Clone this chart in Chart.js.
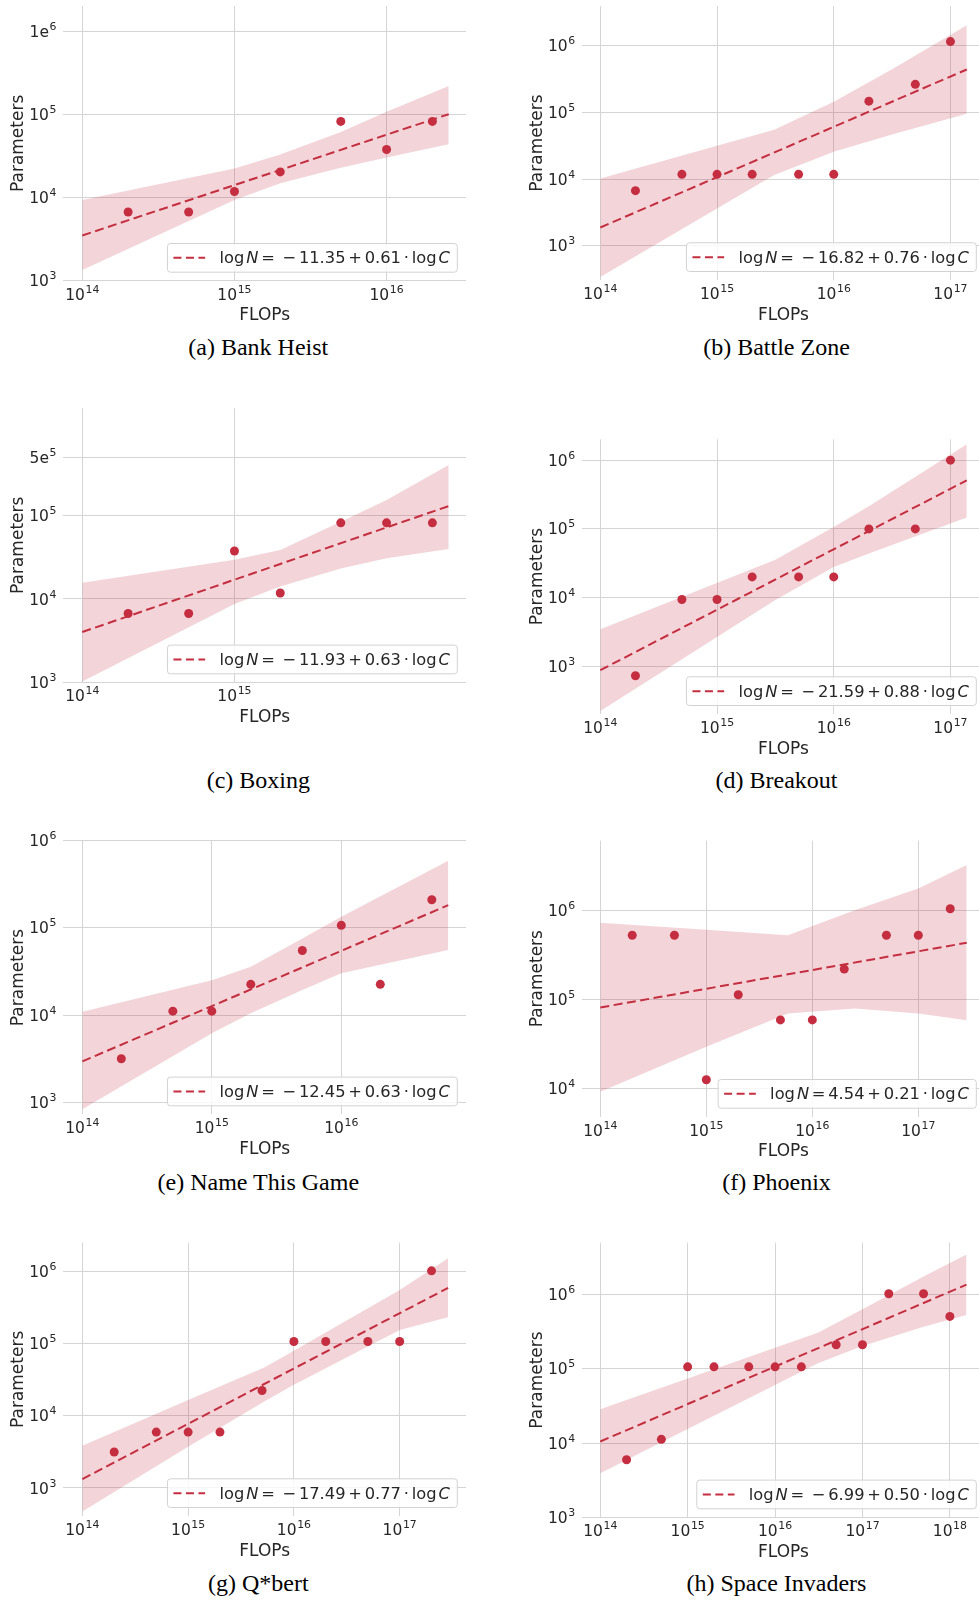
<!DOCTYPE html>
<html>
<head>
<meta charset="utf-8">
<script src="https://cdn.jsdelivr.net/npm/chart.js@4.4.1/dist/chart.umd.min.js"></script>
<style>
  html, body { margin: 0; padding: 0; background: #fff; }
  #page { position: relative; width: 979px; height: 1600px; overflow: hidden; background: #fff; }
  #page canvas { position: absolute; }
  .cap {
    position: absolute; width: 400px; text-align: center; white-space: nowrap;
    font-family: 'Liberation Serif', 'Times New Roman', serif;
    font-size: 24px; line-height: 24px; color: #000;
  }
</style>
</head>
<body>
<div id="page"></div>
<script>
// ---------- data: model FLOPs vs. parameter count, per game ----------

// Bank Heist
const bankHeistFlops      = [2e14, 5e14, 1e15, 2e15, 5e15, 1e16, 2e16];
const bankHeistParams     = [6.7e3, 6.7e3, 1.18e4, 2.03e4, 8.2e4, 3.77e4, 8.2e4];
const bankHeistBandFlops  = [1e14, 1e15, 2e15, 5e15, 1e16, 2.56e16];
const bankHeistBandLow    = [1.34e3, 9.33e3, 1.48e4, 2.27e4, 3.02e4, 4.37e4];
const bankHeistBandHigh   = [9.3e3, 2.23e4, 3.28e4, 6.14e4, 1.07e5, 2.19e5];

// Battle Zone
const battleZoneFlops     = [2e14, 5e14, 1e15, 2e15, 5e15, 1e16, 2e16, 5e16, 1e17];
const battleZoneParams    = [6.7e3, 1.18e4, 1.18e4, 1.18e4, 1.18e4, 1.18e4, 1.48e5, 2.65e5, 1.16e6];
const battleZoneBandFlops = [1e14, 1e15, 3.09e15, 1e16, 3.16e16, 1.38e17];
const battleZoneBandLow   = [339, 3.63e3, 1.15e4, 2.57e4, 4.68e4, 9.55e4];
const battleZoneBandHigh  = [1.02e4, 3.16e4, 5.5e4, 1.45e5, 4.47e5, 2.04e6];

// Boxing
const boxingFlops         = [2e14, 5e14, 1e15, 2e15, 5e15, 1e16, 2e16];
const boxingParams        = [6.7e3, 6.7e3, 3.77e4, 1.18e4, 8.2e4, 8.2e4, 8.2e4];
const boxingBandFlops     = [1e14, 1e15, 2e15, 5e15, 1e16, 2.56e16];
const boxingBandLow       = [1.02e3, 8.71e3, 1.41e4, 2.33e4, 3.08e4, 3.98e4];
const boxingBandHigh      = [1.57e4, 2.95e4, 3.87e4, 8.47e4, 1.54e5, 4.06e5];

// Breakout
const breakoutFlops       = [2e14, 5e14, 1e15, 2e15, 5e15, 1e16, 2e16, 5e16, 1e17];
const breakoutParams      = [730, 9.4e3, 9.4e3, 2.0e4, 2.0e4, 2.0e4, 1.0e5, 1.0e5, 1.0e6];
const breakoutBandFlops   = [1e14, 3.16e15, 1e16, 2e16, 1.38e17];
const breakoutBandLow     = [224, 9.2e3, 2.8e4, 4.37e4, 1.46e5];
const breakoutBandHigh    = [3.46e3, 3.55e4, 1.07e5, 2.14e5, 1.71e6];

// Name This Game
const nameThisGameFlops     = [2e14, 5e14, 1e15, 2e15, 5e15, 1e16, 2e16, 5e16];
const nameThisGameParams    = [3.16e3, 1.11e4, 1.11e4, 2.25e4, 5.5e4, 1.07e5, 2.25e4, 2.1e5];
const nameThisGameBandFlops = [1e14, 1e15, 2e15, 5e15, 1e16, 6.7e16];
const nameThisGameBandLow   = [832, 6.17e3, 1.05e4, 1.94e4, 3.01e4, 5.56e4];
const nameThisGameBandHigh  = [1.09e4, 2.51e4, 3.58e4, 7.57e4, 1.34e5, 5.87e5];

// Phoenix
const phoenixFlops        = [2e14, 5e14, 1e15, 2e15, 5e15, 1e16, 2e16, 5e16, 1e17, 2e17];
const phoenixParams       = [5.25e5, 5.25e5, 1.26e4, 1.13e5, 5.9e4, 5.9e4, 2.19e5, 5.25e5, 5.25e5, 1.04e6];
const phoenixBandFlops    = [1e14, 1e15, 5.89e15, 2.51e16, 1e17, 2.86e17];
const phoenixBandLow      = [9.23e3, 2.95e4, 6.97e4, 7.94e4, 6.97e4, 5.86e4];
const phoenixBandHigh     = [7.24e5, 6.04e5, 5.25e5, 1.0e6, 1.76e6, 3.21e6];

// Q*bert
const qbertFlops          = [2e14, 5e14, 1e15, 2e15, 5e15, 1e16, 2e16, 5e16, 1e17, 2e17];
const qbertParams         = [3.15e3, 5.95e3, 5.95e3, 5.95e3, 2.24e4, 1.07e5, 1.07e5, 1.07e5, 1.07e5, 1.02e6];
const qbertBandFlops      = [1e14, 1e15, 5.25e15, 1e16, 1e17, 2.87e17];
const qbertBandLow        = [474, 3.72e3, 1.58e4, 2.69e4, 1.55e5, 2.32e5];
const qbertBandHigh       = [3.85e3, 1.65e4, 4.68e4, 7.94e4, 5.55e5, 1.52e6];

// Space Invaders
const spaceInvadersFlops     = [2e14, 5e14, 1e15, 2e15, 5e15, 1e16, 2e16, 5e16, 1e17, 2e17, 5e17, 1e18];
const spaceInvadersParams    = [5.96e3, 1.12e4, 1.06e5, 1.06e5, 1.06e5, 1.06e5, 1.06e5, 2.1e5, 2.1e5, 1.02e6, 1.02e6, 5.06e5];
const spaceInvadersBandFlops = [1e14, 1e15, 1e16, 3.09e16, 1e17, 5e17, 1.55e18];
const spaceInvadersBandLow   = [3.91e3, 1.54e4, 6.03e4, 1.18e5, 2.02e5, 3.67e5, 5.27e5];
const spaceInvadersBandHigh  = [2.84e4, 7.41e4, 1.92e5, 3.05e5, 6.3e5, 1.74e6, 3.45e6];

// power-law fits: ln N = intercept + slope * ln C
const fitIntercept = [-11.35, -16.82, -11.93, -21.59, -12.45, 4.54, -17.49, -6.99];
const fitSlope     = [0.6052, 0.7556, 0.6275, 0.880, 0.634, 0.2099, 0.7657, 0.504];

const gameNames = ['Bank Heist', 'Battle Zone', 'Boxing', 'Breakout',
                   'Name This Game', 'Phoenix', 'Q*bert', 'Space Invaders'];
const panelTags = ['a', 'b', 'c', 'd', 'e', 'f', 'g', 'h'];

// tick values and their labels ("base^superscript")
const flopTicks16 = [1e14, 1e15, 1e16];
const flopLabels16 = ['10^14', '10^15', '10^16'];
const flopTicks15 = [1e14, 1e15];
const flopLabels15 = ['10^14', '10^15'];
const flopTicks17 = [1e14, 1e15, 1e16, 1e17];
const flopLabels17 = ['10^14', '10^15', '10^16', '10^17'];
const flopTicks18 = [1e14, 1e15, 1e16, 1e17, 1e18];
const flopLabels18 = ['10^14', '10^15', '10^16', '10^17', '10^18'];
const paramTicks3to6 = [1e3, 1e4, 1e5, 1e6];
const paramLabels3to6 = ['10^3', '10^4', '10^5', '10^6'];
const paramLabelsBankHeist = ['10^3', '10^4', '10^5', '1e^6'];
const paramTicksBoxing = [1e3, 1e4, 1e5, 5e5];
const paramLabelsBoxing = ['10^3', '10^4', '10^5', '5e^5'];
const paramTicks4to6 = [1e4, 1e5, 1e6];
const paramLabels4to6 = ['10^4', '10^5', '10^6'];

// ---------- panel assembly ----------
const panels = [
  { flops: bankHeistFlops, params: bankHeistParams, bandFlops: bankHeistBandFlops, bandLow: bankHeistBandLow, bandHigh: bankHeistBandHigh,
    xTicks: flopTicks16, xLabels: flopLabels16, yTicks: paramTicks3to6, yLabels: paramLabelsBankHeist },
  { flops: battleZoneFlops, params: battleZoneParams, bandFlops: battleZoneBandFlops, bandLow: battleZoneBandLow, bandHigh: battleZoneBandHigh,
    xTicks: flopTicks17, xLabels: flopLabels17, yTicks: paramTicks3to6, yLabels: paramLabels3to6 },
  { flops: boxingFlops, params: boxingParams, bandFlops: boxingBandFlops, bandLow: boxingBandLow, bandHigh: boxingBandHigh,
    xTicks: flopTicks15, xLabels: flopLabels15, yTicks: paramTicksBoxing, yLabels: paramLabelsBoxing },
  { flops: breakoutFlops, params: breakoutParams, bandFlops: breakoutBandFlops, bandLow: breakoutBandLow, bandHigh: breakoutBandHigh,
    xTicks: flopTicks17, xLabels: flopLabels17, yTicks: paramTicks3to6, yLabels: paramLabels3to6 },
  { flops: nameThisGameFlops, params: nameThisGameParams, bandFlops: nameThisGameBandFlops, bandLow: nameThisGameBandLow, bandHigh: nameThisGameBandHigh,
    xTicks: flopTicks16, xLabels: flopLabels16, yTicks: paramTicks3to6, yLabels: paramLabels3to6 },
  { flops: phoenixFlops, params: phoenixParams, bandFlops: phoenixBandFlops, bandLow: phoenixBandLow, bandHigh: phoenixBandHigh,
    xTicks: flopTicks17, xLabels: flopLabels17, yTicks: paramTicks4to6, yLabels: paramLabels4to6 },
  { flops: qbertFlops, params: qbertParams, bandFlops: qbertBandFlops, bandLow: qbertBandLow, bandHigh: qbertBandHigh,
    xTicks: flopTicks17, xLabels: flopLabels17, yTicks: paramTicks3to6, yLabels: paramLabels3to6 },
  { flops: spaceInvadersFlops, params: spaceInvadersParams, bandFlops: spaceInvadersBandFlops, bandLow: spaceInvadersBandLow, bandHigh: spaceInvadersBandHigh,
    xTicks: flopTicks18, xLabels: flopLabels18, yTicks: paramTicks3to6, yLabels: paramLabels3to6 }
];

// page geometry: canvas left/width, plot box [left, top, right, bottom], axis limits as log10 exponents
const layout = [
  { left: 0,   width: 489, plot: [63.3, 6, 466, 280.7],       xExp: [13.875, 16.522], yExp: [3, 6.301],     cap: [258.3, 347.2] },
  { left: 490, width: 510, plot: [582, 6, 985, 280],          xExp: [13.843, 17.296], yExp: [2.485, 6.599], cap: [776.5, 347.2] },
  { left: 0,   width: 489, plot: [63.3, 408.3, 466, 682.3],   xExp: [13.875, 16.522], yExp: [3, 6.289],     cap: [258.3, 779.7] },
  { left: 490, width: 510, plot: [582, 439.3, 985, 714],      xExp: [13.843, 17.296], yExp: [2.306, 6.304], cap: [776.5, 780] },
  { left: 0,   width: 489, plot: [63.3, 840.7, 466, 1114.3],  xExp: [13.853, 16.963], yExp: [2.862, 6.0],   cap: [258.3, 1181.7] },
  { left: 490, width: 510, plot: [582, 840.7, 985, 1116.7],   xExp: [13.827, 17.629], yExp: [3.686, 6.780], cap: [776.5, 1181.7] },
  { left: 0,   width: 489, plot: [63.3, 1242.7, 466, 1516],   xExp: [13.820, 17.627], yExp: [2.612, 6.398], cap: [258.3, 1583.3] },
  { left: 490, width: 510, plot: [582, 1242.7, 985, 1517.3],  xExp: [13.791, 18.402], yExp: [3, 6.696],     cap: [776.5, 1583.3] }
];

// ---------- styling ----------
const MARK = 'rgb(196, 46, 64)';
const BAND = 'rgba(196, 46, 64, 0.2)';
const TEXT = '#262626';
const GRID = '#d5d5d5';
const FONT = "'DejaVu Sans'";
const TICK_SIZE = 15.5;
const SUP_SIZE = 10.9;
const SUP_RAISE = 7;
const LEGEND_SIZE = 16.3;
const X_AXIS_H = 45.3;
const Y_AXIS_W = 55;
const TOP_ROOM = 16;

Chart.defaults.font.family = FONT;
Chart.defaults.color = TEXT;

// draws "base" with a raised superscript, like 10^14
function drawPowerLabel(ctx, label, x, baseline, align) {
  const [base, sup] = label.split('^');
  ctx.font = `${TICK_SIZE}px ${FONT}`;
  const wb = ctx.measureText(base).width;
  ctx.font = `${SUP_SIZE}px ${FONT}`;
  const ws = ctx.measureText(sup).width;
  const total = wb + 0.6 + ws;
  const x0 = align === 'center' ? x - total / 2 : x - total;
  ctx.font = `${TICK_SIZE}px ${FONT}`;
  ctx.fillText(base, x0, baseline);
  ctx.font = `${SUP_SIZE}px ${FONT}`;
  ctx.fillText(sup, x0 + wb + 0.6, baseline - SUP_RAISE);
}

function tickTextPlugin(p) {
  return {
    id: 'tickText',
    afterDraw(chart) {
      const { ctx, chartArea, scales } = chart;
      ctx.save();
      ctx.fillStyle = TEXT;
      ctx.textAlign = 'left';
      ctx.textBaseline = 'alphabetic';
      p.xTicks.forEach((v, k) => {
        drawPowerLabel(ctx, p.xLabels[k], scales.x.getPixelForValue(v), chartArea.bottom + 19, 'center');
      });
      p.yTicks.forEach((v, k) => {
        drawPowerLabel(ctx, p.yLabels[k], chartArea.left - 6.8, scales.y.getPixelForValue(v) + 5.6, 'right');
      });
      ctx.restore();
    }
  };
}

function fitLegendPlugin(intercept, slope) {
  return {
    id: 'fitLegend',
    afterDraw(chart) {
      const { ctx, chartArea } = chart;
      const fs = LEGEND_SIZE;
      const upright = `${fs}px ${FONT}`;
      const italic = `oblique ${fs}px ${FONT}`;
      const thin = 0.12 * fs, op = 0.17 * fs;
      const runs = [['log', upright], thin, ['N', italic], op, ['=', upright], op];
      if (intercept < 0) runs.push(0.3 * fs, ['\u2212', upright], op);
      runs.push([Math.abs(intercept).toFixed(2), upright], op, ['+', upright], op,
                [slope.toFixed(2), upright], op, ['\u00b7', upright], op,
                ['log', upright], thin, ['C', italic]);
      ctx.save();
      const widths = runs.map(r => {
        if (typeof r === 'number') return r;
        ctx.font = r[1];
        return ctx.measureText(r[0]).width;
      });
      const textW = widths.reduce((s, w) => s + w, 0);
      const padL = 6, handle = 31.7, handleGap = 14.3, padR = 7.5, boxH = 28.7;
      const boxW = padL + handle + handleGap + textW + padR;
      const right = chartArea.right - 8.7, bottom = chartArea.bottom - 8.5;
      const left = right - boxW, top = bottom - boxH;
      ctx.beginPath();
      ctx.roundRect(left, top, boxW, boxH, 3);
      ctx.fillStyle = 'rgba(255, 255, 255, 0.8)';
      ctx.fill();
      ctx.strokeStyle = '#d2d2d2';
      ctx.lineWidth = 1;
      ctx.stroke();
      const cy = top + boxH / 2;
      ctx.beginPath();
      ctx.setLineDash([8, 4.5]);
      ctx.moveTo(left + padL, cy);
      ctx.lineTo(left + padL + handle, cy);
      ctx.strokeStyle = MARK;
      ctx.lineWidth = 2;
      ctx.stroke();
      ctx.setLineDash([]);
      let x = left + padL + handle + handleGap;
      ctx.fillStyle = TEXT;
      ctx.textAlign = 'left';
      ctx.textBaseline = 'alphabetic';
      runs.forEach((r, k) => {
        if (typeof r !== 'number') {
          ctx.font = r[1];
          ctx.fillText(r[0], x, cy + 5.6);
        }
        x += widths[k];
      });
      ctx.restore();
    }
  };
}

const page = document.getElementById('page');

panels.forEach((p, i) => {
  const g = layout[i];
  const [pl, pt, pr, pb] = g.plot;
  const canvasTop = Math.floor(pt - TOP_ROOM);
  const canvasH = Math.ceil(pb + X_AXIS_H - canvasTop) + 1;
  const pad = {
    top: pt - canvasTop,
    left: pl - g.left - Y_AXIS_W,
    right: g.left + g.width - pr,
    bottom: canvasTop + canvasH - (pb + X_AXIS_H)
  };

  const canvas = document.createElement('canvas');
  canvas.width = g.width;
  canvas.height = canvasH;
  canvas.style.left = g.left + 'px';
  canvas.style.top = canvasTop + 'px';
  canvas.style.width = g.width + 'px';
  canvas.style.height = canvasH + 'px';
  page.appendChild(canvas);

  const a = fitIntercept[i], b = fitSlope[i];
  const fitAt = c => Math.exp(a + b * Math.log(c));
  const xStart = p.bandFlops[0], xEnd = p.bandFlops[p.bandFlops.length - 1];

  const axisTitle = text => ({
    display: true, text, color: TEXT, padding: 0,
    font: { family: FONT, size: 17, lineHeight: 1.2 }
  });

  new Chart(canvas, {
    type: 'line',
    data: {
      datasets: [
        {
          label: 'runs',
          data: p.flops.map((f, k) => ({ x: f, y: p.params[k] })),
          showLine: false,
          pointRadius: 4.5, pointHoverRadius: 4.5,
          pointBackgroundColor: MARK, pointBorderWidth: 0,
          borderColor: MARK, backgroundColor: MARK
        },
        {
          label: 'fit',
          data: [{ x: xStart, y: fitAt(xStart) }, { x: xEnd, y: fitAt(xEnd) }],
          borderColor: MARK, borderWidth: 2, borderDash: [9, 4.5],
          pointRadius: 0, fill: false, tension: 0
        },
        {
          label: 'band-high',
          data: p.bandFlops.map((f, k) => ({ x: f, y: p.bandHigh[k] })),
          borderWidth: 0, pointRadius: 0, tension: 0,
          fill: '+1', backgroundColor: BAND, borderColor: 'rgba(0,0,0,0)'
        },
        {
          label: 'band-low',
          data: p.bandFlops.map((f, k) => ({ x: f, y: p.bandLow[k] })),
          borderWidth: 0, pointRadius: 0, tension: 0,
          fill: false, borderColor: 'rgba(0,0,0,0)'
        }
      ]
    },
    options: {
      responsive: false,
      devicePixelRatio: 1,
      animation: false,
      events: [],
      layout: { padding: pad },
      plugins: { legend: { display: false }, tooltip: { enabled: false } },
      scales: {
        x: {
          type: 'logarithmic',
          min: Math.pow(10, g.xExp[0]), max: Math.pow(10, g.xExp[1]),
          afterBuildTicks: s => { s.ticks = p.xTicks.map(v => ({ value: v })); },
          afterFit: s => { s.height = X_AXIS_H; },
          ticks: { display: false },
          grid: { color: GRID, lineWidth: 1, drawTicks: false },
          border: { display: false },
          title: axisTitle('FLOPs')
        },
        y: {
          type: 'logarithmic',
          min: Math.pow(10, g.yExp[0]), max: Math.pow(10, g.yExp[1]),
          afterBuildTicks: s => { s.ticks = p.yTicks.map(v => ({ value: v })); },
          afterFit: s => { s.width = Y_AXIS_W; },
          ticks: { display: false },
          grid: { color: GRID, lineWidth: 1, drawTicks: false },
          border: { display: false },
          title: axisTitle('Parameters')
        }
      }
    },
    plugins: [tickTextPlugin(p), fitLegendPlugin(a, b)]
  });

  const cap = document.createElement('div');
  cap.className = 'cap';
  cap.textContent = `(${panelTags[i]}) ${gameNames[i]}`;
  cap.style.left = (g.cap[0] - 200) + 'px';
  cap.style.top = (g.cap[1] - 12.2) + 'px';
  page.appendChild(cap);
});
</script>
</body>
</html>
